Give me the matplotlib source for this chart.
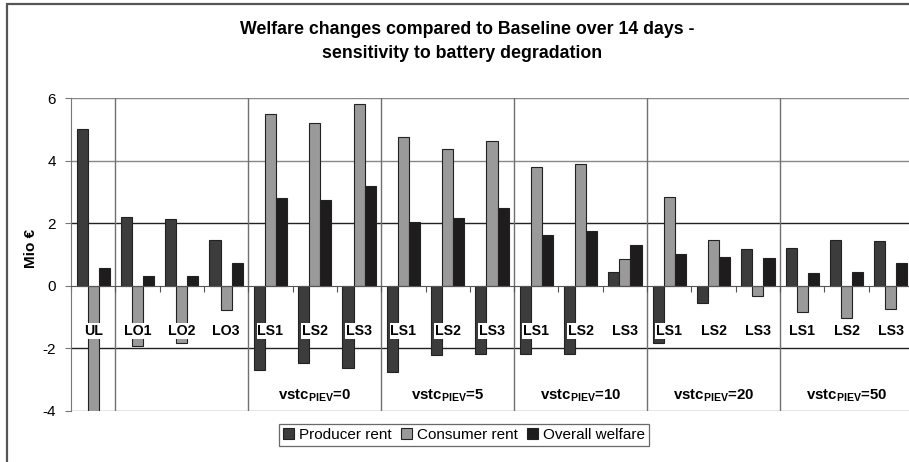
import matplotlib
matplotlib.use('Agg')
import matplotlib.pyplot as plt
from matplotlib.patches import Patch, Rectangle
import numpy as np

plt.rcParams['font.family'] = ['Liberation Sans', 'DejaVu Sans']
plt.rcParams['mathtext.fontset'] = 'custom'
plt.rcParams['mathtext.rm'] = 'Liberation Sans'
plt.rcParams['mathtext.bf'] = 'Liberation Sans:bold'
plt.rcParams['axes.unicode_minus'] = False

# values (Mio EUR)
categories = ['UL', 'LO1', 'LO2', 'LO3',
              'LS1', 'LS2', 'LS3', 'LS1', 'LS2', 'LS3', 'LS1', 'LS2', 'LS3',
              'LS1', 'LS2', 'LS3', 'LS1', 'LS2', 'LS3']
producer = [5.0, 2.2, 2.13, 1.45, -2.70, -2.47, -2.62, -2.74, -2.22, -2.17,
            -2.17, -2.17, 0.44, -1.83, -0.54, 1.19, 1.22, 1.45, 1.43]
consumer = [-4.3, -1.92, -1.84, -0.76, 5.48, 5.21, 5.81, 4.76, 4.36, 4.63,
            3.78, 3.90, 0.85, 2.85, 1.45, -0.32, -0.83, -1.02, -0.74]
overall = [0.58, 0.30, 0.32, 0.72, 2.80, 2.75, 3.20, 2.04, 2.17, 2.50,
           1.62, 1.75, 1.30, 1.02, 0.93, 0.88, 0.41, 0.45, 0.72]
group_sizes = [1, 3, 3, 3, 3, 3, 3]
group_labels = ['', '', '0', '5', '10', '20', '50']
series_names = ['Producer rent', 'Consumer rent', 'Overall welfare']
series_colors = ['#3c3c3c', '#9a9a9a', '#1e1c1c']

W, H = 909, 462
fig = plt.figure(figsize=(W / 100, H / 100), dpi=100)
ax = fig.add_axes([71 / W, 1 - 411 / H, (913 - 71) / W, 313 / H])

x = np.arange(len(categories))
bw = 0.25
for k, (vals, col) in enumerate(zip([producer, consumer, overall], series_colors)):
    ax.bar(x + (k - 1) * bw, vals, bw, color=col, edgecolor='#222222',
           linewidth=0.8, zorder=3)

ax.set_xlim(-0.5, len(categories) - 0.5)
ax.set_ylim(-4, 6)

# horizontal grid
for yv in [6, 4, 2, -2, -4]:
    c = '#222222' if abs(yv) == 2 else '#888888'
    ax.axhline(yv, color=c, lw=1.0, zorder=1)

# group separators
bounds = np.cumsum(group_sizes) - 0.5
for b in bounds:
    ax.axvline(b, color='#707070', lw=1.0, zorder=1)

# category labels
for xi, lab in zip(x, categories):
    ax.text(xi, -1.45, lab, ha='center', va='center', fontsize=10.2,
            fontweight='bold', zorder=5,
            bbox=dict(facecolor='white', edgecolor='none', pad=0.6))

# group labels
starts = np.concatenate([[-0.5], bounds[:-1]])
for s, e, g in zip(starts, bounds, group_labels):
    if g:
        ax.text((s + e) / 2, -3.5, r'vstc$_{\mathbf{PIEV}}$=' + g,
                ha='center', va='center', fontsize=10.8, fontweight='bold')

# axes styling: x axis sits at zero
for sp in ['top', 'right']:
    ax.spines[sp].set_visible(False)
ax.spines['bottom'].set_position(('data', 0))
ax.spines['bottom'].set_color('#555555')
ax.spines['bottom'].set_zorder(4)
ax.spines['left'].set_color('#777777')
ax.set_xticks(np.arange(len(categories) + 1) - 0.5)
ax.set_xticklabels([])
ax.tick_params(axis='x', direction='out', length=4, color='#555555')
ax.set_yticks([-4, -2, 0, 2, 4, 6])
ax.tick_params(axis='y', direction='out', length=4, color='#777777',
               labelsize=11, pad=7)
ax.set_ylabel('Mio €', fontsize=11, fontweight='bold')
ax.yaxis.set_label_coords(-0.039, 0.52)

fig.text(467 / W, 1 - 30 / H, 'Welfare changes compared to Baseline over 14 days -',
         ha='center', va='center', fontsize=12.8, fontweight='bold')
fig.text(462 / W, 1 - 53 / H, 'sensitivity to battery degradation',
         ha='center', va='center', fontsize=12.8, fontweight='bold')

handles = [Patch(facecolor=c, edgecolor='#222222', linewidth=0.8) for c in series_colors]
leg = fig.legend(handles, series_names, loc='center', bbox_to_anchor=(464 / W, 1 - 435 / H),
                 ncol=3, fontsize=11, frameon=True, fancybox=False, handlelength=0.75,
                 handleheight=0.75, handletextpad=0.3, columnspacing=0.6,
                 borderpad=0.25, borderaxespad=0)
leg.get_frame().set_edgecolor('#444444')
leg.get_frame().set_linewidth(0.9)

fig.add_artist(Rectangle((7 / W, -0.05), 1.1, 1 - 4 / H + 0.05, transform=fig.transFigure,
                         fill=False, edgecolor='#555555', linewidth=1.6))

fig.savefig('out.png', dpi=100, facecolor='white')
